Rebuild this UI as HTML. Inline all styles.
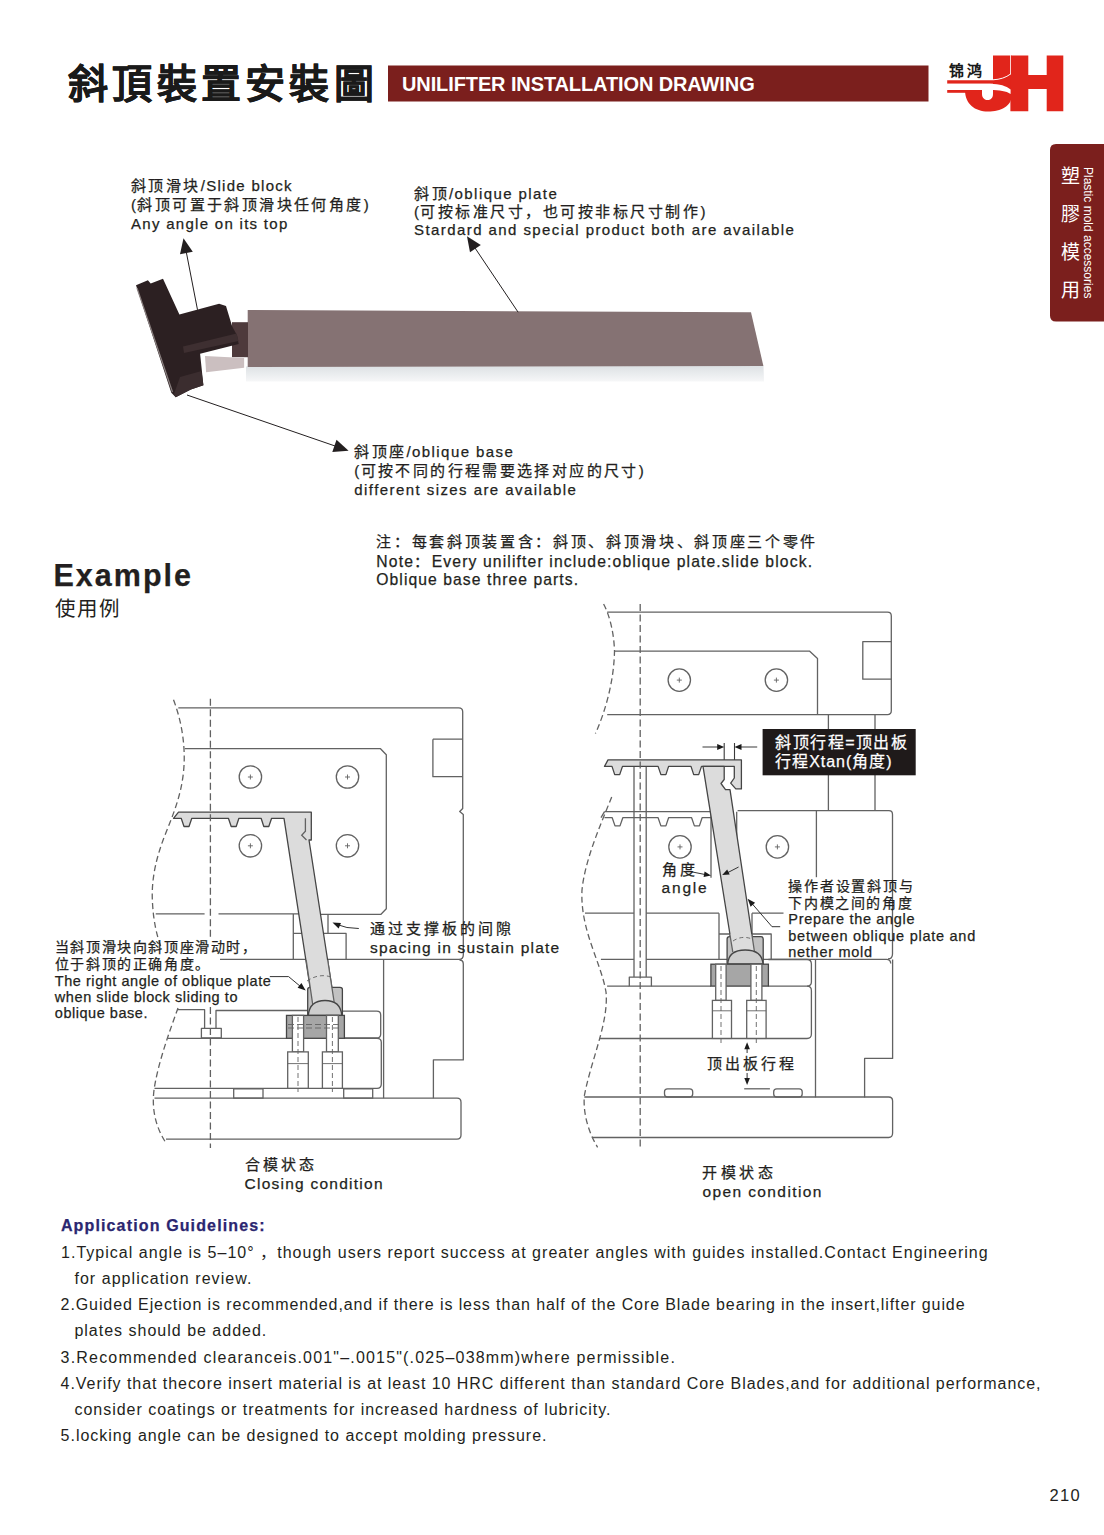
<!DOCTYPE html>
<html lang="zh-CN"><head><meta charset="utf-8">
<style>
html,body{margin:0;padding:0;background:#fff;}
body{width:1104px;height:1535px;overflow:hidden;position:relative;}
svg{position:absolute;left:0;top:0;}
text{font-family:"Liberation Sans",sans-serif;fill:#231f20;stroke:#231f20;stroke-width:0.25px;}
</style></head><body>
<svg width="1104" height="1535" viewBox="0 0 1104 1535">
<text x="68" y="97.5" style="font-size:40px;letter-spacing:4.300px;fill:#1a1a1a;stroke:#1a1a1a;font-weight:900" stroke="#1a1a1a" stroke-width="0.3" stroke-linejoin="miter"><tspan style="font-size:40px;letter-spacing:4.300px">斜頂裝置安裝圖</tspan></text>
<rect x="388" y="65.5" width="540.5" height="36" fill="#7b1f1d"/><text x="402" y="90.5" style="font-size:20px;font-weight:bold;letter-spacing:-0.11px;fill:#fff;stroke:none">UNILIFTER INSTALLATION DRAWING</text><g id="logo">
<text x="948.5" y="75.5" style="font-size:15px;font-weight:bold;letter-spacing:3.5px;fill:#1a1a1a;stroke:none">锦鸿</text>
<path fill="#e1251b" d="M993 55.5H1011.5V96C1011.5 106 1001 111.5 988 111.5C975 111.5 965 104 965 90H982V94C982 98 985 100 987.5 100C990.5 100 993 98 993 94Z"/>
<path fill="#e1251b" d="M1010.4 55.5H1028.3V75H1046.7V55.5H1063.3V111.3H1046.7V89H1028.3V111.3H1010.4Z"/>
<path fill="#e1251b" d="M947.2 80.2H996V83.8H947.2Z"/>
<path fill="#e1251b" d="M947.2 90H970V92.8H947.2Z"/>
<path fill="#fff" d="M947 83.8H990C1000 84 1006 86 1010.6 89.5V94C1006 91 1000 90 990 90H947Z"/>
<path fill="none" stroke="#fff" stroke-width="1" d="M993 79.8C1000 79.5 1006 77.5 1010.6 74"/>
<path fill="none" stroke="#fff" stroke-width="0.8" d="M1010.5 55V74.5"/>
</g><path d="M1104 144H1056Q1050 144 1050 150V315.5Q1050 321.5 1056 321.5H1104Z" fill="#7b1f1d"/><text x="1061" y="183" style="fill:#fff;stroke:none;font-size:19px">塑</text><text x="1061" y="221" style="fill:#fff;stroke:none;font-size:19px">膠</text><text x="1061" y="259" style="fill:#fff;stroke:none;font-size:19px">模</text><text x="1061" y="297" style="fill:#fff;stroke:none;font-size:19px">用</text><text transform="translate(1083.5,167) rotate(90)" x="0" y="0" style="fill:#fff;stroke:none;font-size:12px">Plastic mold accessories</text><g id="photo">
<defs><linearGradient id="strip" x1="0" y1="0" x2="0" y2="1"><stop offset="0" stop-color="#dde1e4"/><stop offset="1" stop-color="#f6f7f8"/></linearGradient></defs>
<polygon points="246,366.5 763.5,366 764,381.5 246,381.5" fill="url(#strip)"/>
<polygon points="247.7,309.9 751,312.3 763.4,366 247.7,367" fill="#857273"/>
<rect x="232" y="322.2" width="16" height="35" fill="#4e3a3c"/>
<polygon points="205,355.9 244.1,358 244.1,367.8 206.1,372.2" fill="#cbbfc0"/>
<polygon points="136,285.2 147.9,280.3 150.7,283.6 163,278.7 179.4,314.5 219.1,303.7 226,306 232.2,326.5 237,335.2 238.7,343.9 200.1,353.7 203.4,385.2 190.9,389.6 175.7,397.2 171.3,392.8" fill="#2c2022"/>
<polyline points="137,288 172.5,392" fill="none" stroke="#8a8080" stroke-width="1.2"/>
<polygon points="183,346.5 236.5,333.5 238.5,341 184,353" fill="#3e2f31"/>
<polygon points="180,377 201.5,371 203.4,385.2 190.9,389.6 175.7,397.2 174,394" fill="#3b2d2f"/>
</g><g stroke="#231f20" stroke-width="1" fill="none"><line x1="197.5" y1="309.8" x2="185.5" y2="248"/><line x1="518.1" y1="312.2" x2="473" y2="245"/><line x1="187" y1="395" x2="338" y2="447"/></g><polygon points="183.5,238.2 192.8,251.7 180.0,254.2" fill="#231f20" stroke="none"/><polygon points="467.0,236.2 480.8,245.0 470.0,252.3" fill="#231f20" stroke="none"/><polygon points="348.6,450.7 332.3,452.0 336.5,439.7" fill="#231f20" stroke="none"/><text x="131" y="191" style="font-size:15px;letter-spacing:1.292px"><tspan style="font-size:15px;letter-spacing:2.417px">斜顶滑块</tspan>/Slide block</text>
<text x="131" y="210.2" style="font-size:15px;letter-spacing:1.250px">(<tspan style="font-size:15px;letter-spacing:2.417px">斜顶可置于斜顶滑块任何角度</tspan>)</text>
<text x="131" y="229.3" style="font-size:15px;letter-spacing:1.292px">Any angle on its top</text>
<text x="414" y="198.8" style="font-size:15px;letter-spacing:1.423px"><tspan style="font-size:15px;letter-spacing:2.500px">斜顶</tspan>/oblique plate</text>
<text x="414" y="217" style="font-size:15px;letter-spacing:1.380px">(<tspan style="font-size:15px;letter-spacing:2.500px">可按标准尺寸，也可按非标尺寸制作</tspan>)</text>
<text x="414" y="235.2" style="font-size:15px;letter-spacing:1.423px">Stardard and special product both are available</text>
<text x="354.3" y="457" style="font-size:15px;letter-spacing:1.431px"><tspan style="font-size:15px;letter-spacing:2.380px">斜顶座</tspan>/oblique base</text>
<text x="354.3" y="475.7" style="font-size:15px;letter-spacing:1.360px">(<tspan style="font-size:15px;letter-spacing:2.380px">可按不同的行程需要选择对应的尺寸</tspan>)</text>
<text x="354.3" y="494.5" style="font-size:15px;letter-spacing:1.431px">different sizes are available</text>
<text x="53.5" y="586" style="font-size:30.5px;letter-spacing:2.000px;font-weight:bold">Example</text>
<text x="55" y="615.5" style="font-size:20.5px;letter-spacing:1.800px;stroke-width:0px"><tspan style="font-size:20.5px;letter-spacing:1.800px">使用例</tspan></text>
<text x="376.3" y="547" style="font-size:15px;letter-spacing:3.000px"><tspan style="font-size:15px;letter-spacing:2.667px">注：每套斜顶装置含：斜顶、斜顶滑块、斜顶座三个零件</tspan></text>
<text x="376.3" y="566.7" style="font-size:15.7px;letter-spacing:1.142px">Note<tspan style="font-size:15px;letter-spacing:2.667px">：</tspan>Every unilifter include:oblique plate.slide block.</text>
<text x="376.3" y="585.3" style="font-size:15.7px;letter-spacing:1.067px">Oblique base three parts.</text>
<text x="60.9" y="1231" style="font-size:16px;letter-spacing:1.140px;fill:#2b2670;stroke:#2b2670;font-weight:bold">Application Guidelines:</text>
<text x="61" y="1258.1" style="font-size:16px;letter-spacing:1.022px;stroke-width:0px">1.Typical angle is 5–10°  <tspan style="font-size:16px;letter-spacing:1.022px">，</tspan>though users report success at greater angles with guides installed.Contact Engineering</text>
<text x="74.4" y="1284.2" style="font-size:16px;letter-spacing:1.050px;stroke-width:0px">for application review.</text>
<text x="60.6" y="1310.3" style="font-size:16px;letter-spacing:0.900px;stroke-width:0px">2.Guided Ejection is recommended,and if there is less than half of the Core Blade bearing in the insert,lifter guide</text>
<text x="74.4" y="1336.2" style="font-size:16px;letter-spacing:1.000px;stroke-width:0px">plates should be added.</text>
<text x="60.6" y="1363.4" style="font-size:16px;letter-spacing:1.185px;stroke-width:0px">3.Recommended clearanceis.001"–.0015"(.025–038mm)where permissible.</text>
<text x="60.6" y="1389.3" style="font-size:16px;letter-spacing:0.948px;stroke-width:0px">4.Verify that thecore insert material is at least 10 HRC different than standard Core Blades,and for additional performance,</text>
<text x="74.4" y="1415" style="font-size:16px;letter-spacing:0.985px;stroke-width:0px">consider coatings or treatments for increased hardness of lubricity.</text>
<text x="60.6" y="1441.3" style="font-size:16px;letter-spacing:0.970px;stroke-width:0px">5.locking angle can be designed to accept molding pressure.</text>
<text x="1049.6" y="1500.8" style="font-size:16.5px;letter-spacing:1.300px;stroke-width:0px">210</text>
<g fill="none" stroke="#626262" stroke-width="1.3" stroke-linejoin="round">
<path stroke-dasharray="6 3.5" d="M173.5 699.8C182 722 186 748 183.5 772C181 796 173 815 165 835C156 858 151 880 152.5 903C153.5 922 157 936 161 947"/>
<path stroke-dasharray="6 3.5" d="M178 1008C169 1033 158 1063 154 1090C151.5 1110 156 1128 166.4 1143.6"/>
<path d="M178.3 707.8H458.7Q462.7 707.8 462.7 711.8V808.5L459.7 811.5L463.3 814.5V955Q463.3 959.3 459 959.3H220"/>
<path d="M432.9 739.2H462.7M432.9 739.2V776.7H462.7"/>
<path d="M184.8 748.7H380.5L386.3 754.8V908.8L381 914.3H300"/>
<path d="M155.7 913.8H204.6M218.5 913.8H300"/>
<circle cx="250.4" cy="777" r="11.2"/>
<path stroke-width="0.9" d="M247.9 777H252.9M250.4 774.5V779.5"/>
<circle cx="250.4" cy="845.8" r="11.2"/>
<path stroke-width="0.9" d="M247.9 845.8H252.9M250.4 843.3V848.3"/>
<circle cx="347.5" cy="777" r="11.2"/>
<path stroke-width="0.9" d="M345.0 777H350.0M347.5 774.5V779.5"/>
<circle cx="347.5" cy="845.8" r="11.2"/>
<path stroke-width="0.9" d="M345.0 845.8H350.0M347.5 843.3V848.3"/>
<path d="M293.3 914V959.3M293.3 933.4H305M328 914V933.4M318 933.4H346.1V959.3"/>
<path d="M459.5 960Q463.3 960 463.3 964V1059.9H433.4V1098.2"/>
<path d="M383.6 959.3V1098.2"/>
<path d="M177 1009.7H204.6V1028.4M216 1028.4V1010.5H307.7"/>
<rect x="201.4" y="1028.4" width="19.9" height="9.6"/>
<path d="M342.4 1011.2H376.7Q380.7 1011.2 380.7 1015V1034Q380.7 1038 376.7 1038H344.4"/>
<path d="M344.4 1038.3H377Q381.3 1038.3 381.3 1042.3V1084Q381.3 1088.3 377 1088.3H154.5"/>
<path d="M168 1038.3H286.5"/>
<path d="M154.5 1098.2H457Q461 1098.2 461 1102.2V1135Q461 1139.1 457 1139.1H166"/>
<rect x="233.7" y="1088.9" width="29.3" height="9.3"/>
<rect x="343.7" y="1088.9" width="29" height="9.3"/>
</g>
<polygon points="178.5,812.2 311.3,812.2 311.3,840.0 309.0,840.0 334.6,1005.0 312.8,1005.0 284.0,818.3 271.6,818.3 268.8,826.5 263.8,826.5 261.1,818.3 238.9,818.3 236.2,826.5 231.2,826.5 228.4,818.3 191.8,818.3 189.0,826.5 184.0,826.5 181.2,818.3 173.5,818.3" fill="#dcdcdc" stroke="#454545" stroke-width="1.3" stroke-linejoin="round"/>
<path fill="none" stroke="#626262" stroke-width="1.3" d="M305.4 818.3V831.3L301.7 835.2L306.5 840"/>
<path d="M307.7 1015.4V989.5Q307.7 987.3 310 987.3H340Q342.4 987.3 342.4 989.5V1015.4Z" fill="#c2c2c2" stroke="#454545" stroke-width="1.3"/>
<polygon points="306.2,960 327.7,960 334.6,1005 312.8,1005" fill="#dcdcdc" stroke="none"/>
<path fill="none" stroke="#626262" stroke-width="1.3" d="M306.2 960L312.8 1005M327.7 960L334.6 1005"/>
<path fill="none" stroke="#626262" stroke-width="0.9" stroke-dasharray="4 3" d="M307 981Q319 973 331 977"/>
<path d="M308.3 1015.4Q309.5 1000.5 325 1000.5Q340.5 1000.5 341.8 1015.4Z" fill="#cdcdcd" stroke="#454545" stroke-width="1.3"/>
<rect x="286.5" y="1015.4" width="57.9" height="22.9" fill="#a6a6a6" stroke="#454545" stroke-width="1.3"/>
<rect x="292.4" y="1015.4" width="11.2" height="36.5" fill="#fff" stroke="#626262" stroke-width="1.3"/>
<rect x="287.7" y="1051.9" width="20.6" height="36.4" fill="#fff" stroke="#626262" stroke-width="1.3"/>
<path fill="none" stroke="#626262" stroke-width="0.9" d="M287.7 1063.6H308.3"/>
<path fill="none" stroke="#626262" stroke-width="0.9" stroke-dasharray="5 3" d="M298.0 1017V1092"/>
<rect x="326.5" y="1015.4" width="11.8" height="36.5" fill="#fff" stroke="#626262" stroke-width="1.3"/>
<rect x="322.4" y="1051.9" width="20.0" height="36.4" fill="#fff" stroke="#626262" stroke-width="1.3"/>
<path fill="none" stroke="#626262" stroke-width="0.9" d="M322.4 1063.6H342.4"/>
<path fill="none" stroke="#626262" stroke-width="0.9" stroke-dasharray="5 3" d="M332.4 1017V1092"/>
<path fill="none" stroke="#626262" stroke-width="0.9" stroke-dasharray="6 3" d="M288 1024.5H342M288 1028H342"/>
<path fill="none" stroke="#626262" stroke-width="1.3" stroke-dasharray="7 3.5" d="M210.4 698.7V940M210.4 1007V1148"/>
<path fill="none" stroke="#333" stroke-width="1" d="M269.8 976.6H288.6L300.5 986.5"/>
<polygon points="305.7,990.4 297.6,987.7 301.4,983.0" fill="#1a1a1a" stroke="none"/>
<path fill="none" stroke="#333" stroke-width="1" d="M358.8 928.5Q346 928.5 337 924.5"/>
<polygon points="332.5,922.5 341.0,923.0 338.6,928.5" fill="#1a1a1a" stroke="none"/>
<g fill="none" stroke="#626262" stroke-width="1.3" stroke-linejoin="round">
<path stroke-dasharray="6 3.5" d="M603.6 604C610 616 614 634 614.5 651C614 680 606 710 595.4 733.6"/>
<path stroke-dasharray="6 3.5" d="M611.7 797C600 826 585 860 582 890C580 930 601 962 606 992C609 1022 591 1060 584.3 1096C583 1115 589 1133 597.6 1147.3"/>
<path d="M607.2 612.2H887.5Q891.3 612.2 891.3 616V710.8Q891.3 714.6 887.5 714.6H607.2"/>
<path d="M891.3 641.7H862.8V679.2H891.3"/>
<path d="M614.5 651.2H809.7L817.5 658.4V714.6"/>
<circle cx="679.3" cy="680.1" r="11.2"/>
<path stroke-width="0.9" d="M676.8 680.1H681.8M679.3 677.6V682.6"/>
<circle cx="776.4" cy="680.1" r="11.2"/>
<path stroke-width="0.9" d="M773.9 680.1H778.9M776.4 677.6V682.6"/>
<path d="M828.4 714.6V810.6M875 714.6V810.6"/>
<path stroke="#3a3a3a" stroke-width="1.1" d="M702.5 747H718M740 747H757.2M724.2 743V760M734.5 743V760"/>
<path d="M604.5 811.7H711"/>
<path d="M737.6 810.6H888.9Q892.5 810.6 892.5 814.4V954Q892.5 958.9 888 958.9"/>
<path d="M711 811.7V877.8M736.7 811.7V912"/>
<path d="M816.4 810.6V877.2"/>
<circle cx="680" cy="846.9" r="11.2"/>
<path stroke-width="0.9" d="M677.5 846.9H682.5M680 844.4V849.4"/>
<circle cx="777.4" cy="846.9" r="11.2"/>
<path stroke-width="0.9" d="M774.9 846.9H779.9M777.4 844.4V849.4"/>
<path d="M585 913.2H634M646.2 913.2H719M752 913.2H783.5"/>
<path d="M719 913.2V959.3M719 934H733M752 913.2V934H771.2V959.3"/>
<path d="M600.9 959.3H634M646.2 959.3H886.5Q890.7 959.3 890.7 963.5"/>
<path d="M892.6 959.5V1058.4H864.6V1097.4"/>
<path d="M815.5 959.5V1097.4"/>
<path d="M607.1 986.2H629.3M651.4 986.2H711"/>
<path d="M768.4 959.5H807Q811.4 959.5 811.4 964V982Q811.4 986.1 807 986.1H768.4"/>
<path d="M599.5 1038.5H807Q811.4 1038.5 811.4 1034V990.5Q811.4 986.1 807 986.1"/>
<path d="M584.3 1097H888.6Q892.6 1097 892.6 1101V1133Q892.6 1137.5 888.6 1137.5H591.9"/>
<rect x="664.5" y="1088.8" width="28.2" height="8.2" rx="3"/>
<rect x="773.7" y="1088.8" width="28.5" height="8.2" rx="3"/>
<path d="M744.2 1088.8H769.9"/>
<polyline points="711.0,817.7 702.1,817.7 699.4,825.9 694.4,825.9 691.6,817.7 668.6,817.7 665.9,825.9 660.9,825.9 658.1,817.7 622.8,817.7 620.0,825.9 615.0,825.9 612.2,817.7 604.5,817.7"/>
<path d="M604.5 811.7L601 817.7"/>
<path d="M634 766.2V977.1M646.2 766.2V977.1"/>
<rect x="629.3" y="977.1" width="22.1" height="9.1"/>
</g>
<polygon points="608.0,759.9 741.4,759.9 741.4,788.9 735.8,788.9 730.7,783.1 734.3,778.0 734.3,766.4 701.5,766.4 698.7,774.6 693.7,774.6 691.0,766.4 668.6,766.4 665.9,774.6 660.9,774.6 658.1,766.4 622.5,766.4 619.7,774.6 614.7,774.6 612.0,766.4 604.5,766.4" fill="#dcdcdc" stroke="#454545" stroke-width="1.3" stroke-linejoin="round"/>
<polygon points="703.0,766.4 724.2,766.4 724.2,779.5 721.0,783.5 725.5,789.6 730.0,789.6 754.5,952.0 732.8,952.0" fill="#dcdcdc" stroke="#454545" stroke-width="1.3" stroke-linejoin="round"/>
<path d="M727.1 964V939Q727.1 936.7 729.5 936.7H761Q763.2 936.7 763.2 939V964Z" fill="#c2c2c2" stroke="#454545" stroke-width="1.3"/>
<polygon points="729.8,934 751.8,934 754.5,952 732.8,952" fill="#dcdcdc" stroke="none"/>
<path fill="none" stroke="#626262" stroke-width="1.3" d="M729.8 934L732.8 952M751.8 934L754.5 952"/>
<path fill="none" stroke="#626262" stroke-width="0.9" stroke-dasharray="4 3" d="M733 941Q742 935 752 939"/>
<path d="M727.7 964Q728.5 950 745.2 950Q762 950 763 964Z" fill="#cdcdcd" stroke="#454545" stroke-width="1.3"/>
<rect x="710.9" y="964.2" width="57.5" height="21.9" fill="#a6a6a6" stroke="#454545" stroke-width="1.3"/>
<rect x="715.7" y="964.2" width="10.4" height="36.2" fill="#fff" stroke="#626262" stroke-width="1.3"/>
<rect x="712.4" y="1000.4" width="19.1" height="38" fill="#fff" stroke="#626262" stroke-width="1.3"/>
<path fill="none" stroke="#626262" stroke-width="0.9" d="M712.4 1010.8H731.5"/>
<path fill="none" stroke="#626262" stroke-width="0.9" stroke-dasharray="5 3" d="M721 966V1044"/>
<rect x="750.9" y="964.2" width="11.0" height="36.2" fill="#fff" stroke="#626262" stroke-width="1.3"/>
<rect x="746.7" y="1000.4" width="19.4" height="38" fill="#fff" stroke="#626262" stroke-width="1.3"/>
<path fill="none" stroke="#626262" stroke-width="0.9" d="M746.7 1010.8H766.1"/>
<path fill="none" stroke="#626262" stroke-width="0.9" stroke-dasharray="5 3" d="M756.3 966V1044"/>
<polygon points="724.2,747.0 717.2,750.0 717.2,744.0" fill="#1a1a1a" stroke="none"/>
<polygon points="734.5,747.0 741.5,744.0 741.5,750.0" fill="#1a1a1a" stroke="none"/>
<path fill="none" stroke="#333" stroke-width="1" d="M747.1 1046V1053M747.1 1073V1080"/>
<polygon points="747.1,1042.2 749.9,1049.2 744.3,1049.2" fill="#1a1a1a" stroke="none"/>
<polygon points="747.1,1085.0 744.3,1078.0 749.9,1078.0" fill="#1a1a1a" stroke="none"/>
<path fill="none" stroke="#333" stroke-width="1" d="M690 871.5L705 874.5"/>
<polygon points="711.0,875.5 703.6,876.9 704.6,871.4" fill="#1a1a1a" stroke="none"/>
<path fill="none" stroke="#333" stroke-width="1" d="M738.6 867L727 873"/>
<polygon points="722.2,875.1 727.2,869.5 729.7,874.5" fill="#1a1a1a" stroke="none"/>
<path fill="none" stroke="#333" stroke-width="1" d="M780.2 926.7H772L751.5 903"/>
<polygon points="747.6,898.7 755.1,902.8 750.6,906.7" fill="#1a1a1a" stroke="none"/>
<path fill="none" stroke="#626262" stroke-width="1.3" stroke-dasharray="7 3.5" d="M640.2 604V1146.4"/>
<rect x="762.6" y="729" width="153.1" height="46.3" fill="#1f1a1a"/><text x="370" y="934" style="font-size:15px;letter-spacing:2.500px"><tspan style="font-size:15px;letter-spacing:3.014px">通过支撑板的间隙</tspan></text>
<text x="370" y="952.8" style="font-size:15.5px;letter-spacing:1.217px">spacing in sustain plate</text>
<text x="54.8" y="952" style="font-size:14px;letter-spacing:0.600px"><tspan style="font-size:14px;letter-spacing:1.600px">当斜顶滑块向斜顶座滑动时，</tspan></text>
<text x="54.8" y="968.7" style="font-size:14px;letter-spacing:0.600px"><tspan style="font-size:14px;letter-spacing:1.600px">位于斜顶的正确角度。</tspan></text>
<text x="54.8" y="985.8" style="font-size:14.5px;letter-spacing:0.545px">The right angle of oblique plate</text>
<text x="54.8" y="1001.5" style="font-size:14.5px;letter-spacing:0.577px">when slide block sliding to</text>
<text x="54.8" y="1018" style="font-size:14.5px;letter-spacing:0.533px">oblique base.</text>
<text x="244.5" y="1170.3" style="font-size:15px;letter-spacing:1.500px"><tspan style="font-size:15px;letter-spacing:3.100px">合模状态</tspan></text>
<text x="244.5" y="1189.2" style="font-size:15.5px;letter-spacing:1.250px">Closing condition</text>
<text x="775.3" y="747.5" style="font-size:16px;letter-spacing:1.500px;fill:#fff;stroke:#fff"><tspan style="font-size:16px;letter-spacing:1.467px">斜顶行程</tspan>=<tspan style="font-size:16px;letter-spacing:1.467px">顶出板</tspan></text>
<text x="775.3" y="766.5" style="font-size:16px;letter-spacing:0.960px;fill:#fff;stroke:#fff"><tspan style="font-size:16px;letter-spacing:0.960px">行程</tspan>Xtan(<tspan style="font-size:16px;letter-spacing:0.960px">角度</tspan>)</text>
<text x="661.6" y="875" style="font-size:15px;letter-spacing:3.000px"><tspan style="font-size:15px;letter-spacing:3.000px">角度</tspan></text>
<text x="661.6" y="893.2" style="font-size:15.5px;letter-spacing:1.800px">angle</text>
<text x="788.3" y="891" style="font-size:14px;letter-spacing:1.200px"><tspan style="font-size:14px;letter-spacing:1.771px">操作者设置斜顶与</tspan></text>
<text x="788.3" y="907.6" style="font-size:14px;letter-spacing:1.200px"><tspan style="font-size:14px;letter-spacing:1.629px">下内模之间的角度</tspan></text>
<text x="788.3" y="924.2" style="font-size:14.5px;letter-spacing:0.688px">Prepare the angle</text>
<text x="788.3" y="941.1" style="font-size:14.5px;letter-spacing:0.733px">between oblique plate and</text>
<text x="788.3" y="956.7" style="font-size:14.5px;letter-spacing:0.720px">nether mold</text>
<text x="706.7" y="1068.6" style="font-size:15px;letter-spacing:2.200px"><tspan style="font-size:15px;letter-spacing:3.100px">顶出板行程</tspan></text>
<text x="702.4" y="1177.8" style="font-size:15px;letter-spacing:1.500px"><tspan style="font-size:15px;letter-spacing:3.500px">开模状态</tspan></text>
<text x="702.4" y="1196.6" style="font-size:15.5px;letter-spacing:1.400px">open condition</text>
</svg>
</body></html>
